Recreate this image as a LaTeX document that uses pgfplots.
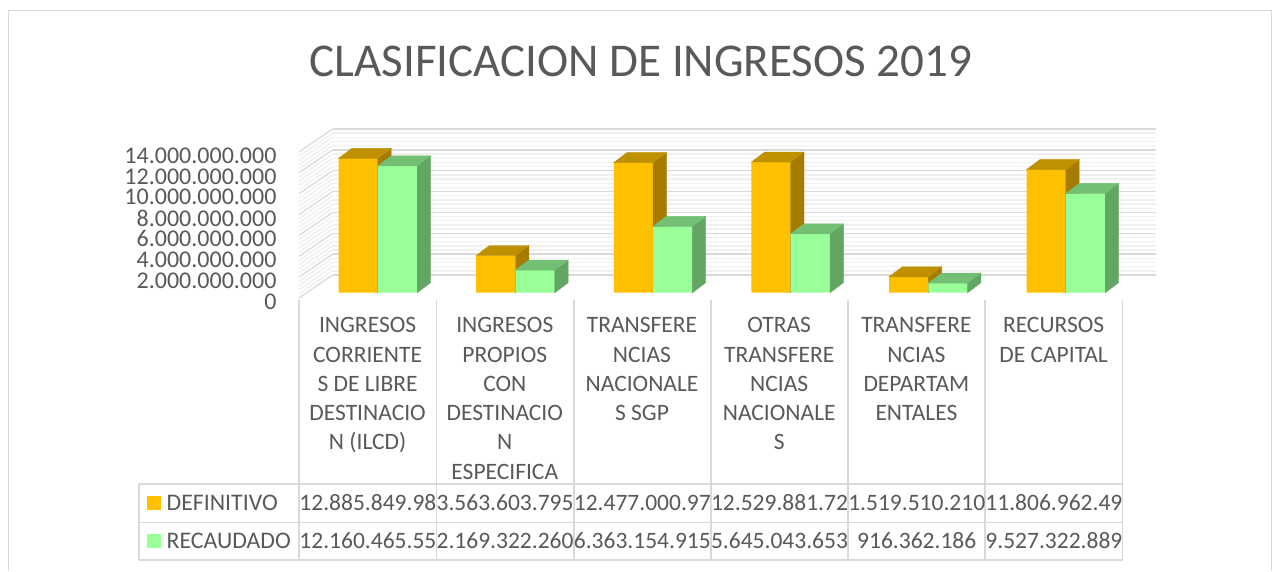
\documentclass[border=0pt]{standalone}
\usepackage{fontspec}
\setmainfont{Carlito}
\usepackage{pgfplots}
\pgfplotsset{compat=1.18}
\usepackage{pgfplotstable}

\definecolor{txt}{HTML}{595959}
\definecolor{rule}{HTML}{D9D9D9}
\definecolor{minor}{HTML}{F0F0F0}
\definecolor{defin}{HTML}{FFC000}
\definecolor{defintop}{HTML}{BF9000}
\definecolor{definside}{HTML}{A67C00}
\definecolor{recau}{HTML}{99FF99}
\definecolor{recautop}{HTML}{73BF73}
\definecolor{recauside}{HTML}{63A563}

% valores en miles de millones
\pgfplotstableread{
x   def       rec
0.5 12.885850 12.160466
1.5 3.563604  2.169322
2.5 12.477001 6.363155
3.5 12.529882 5.645044
4.5 1.519510  0.916362
5.5 11.806962 9.527323
}\ingresos

% caras superior y lateral de la barra; left edge given relative to the pair centre
\newcommand\prism[3]{%
  \pgfmathsetmacro\h{\rawy*146/14}%
  \fill[#1] (#3pt+39.3pt,0pt) -- ++(13.3pt,10pt) -- ++(0pt,-\h pt) -- ++(-13.3pt,-10pt) -- cycle;
  \fill[#2] (#3pt,0pt) -- ++(13.3pt,10pt) -- ++(39.3pt,0pt) -- ++(-13.3pt,-10pt) -- cycle;
}
\pgfdeclareplotmark{prismA}{\prism{definside}{defintop}{-39.3}}
\pgfdeclareplotmark{prismB}{\prism{recauside}{recautop}{0}}

\newcommand\fs{\fontsize{23.5}{29.3}\selectfont}

\pgfplotsset{barlayer/.style={
  at={(309.1pt,-292.7pt)}, anchor=south west,
  scale only axis, width=825.6pt, height=146pt,
  xmin=0, xmax=6, ymin=0, ymax=14,
  hide axis, clip=false,
}}

\begin{document}
\begin{tikzpicture}[x=1pt,y=1pt]
\fill[white] (0,0) rectangle (1272,-571);
\path[use as bounding box] (0,0) rectangle (1272,-571);

% marco
\draw[rule,line width=1.5pt] (8.5,-571) -- (8.5,-10.5) -- (1271.5,-10.5) -- (1271.5,-571);

\node[txt,font=\fontsize{47}{47}\selectfont] at (641,-61) {CLASIFICACION DE INGRESOS 2019};

% pared lateral
\foreach \i in {0,...,35}{
  \pgfmathtruncatemacro\m{mod(\i,5)}
  \ifnum\m=0\relax
    \draw[rule,line width=1.2pt] (299,{-298+4.1714*\i}) -- (332.6,{-275+4.1714*\i});
  \else
    \draw[minor,line width=1.4pt] (299,{-298+4.1714*\i}) -- (332.6,{-275+4.1714*\i});
  \fi
}

% pared del fondo
\begin{axis}[
  at={(332.6pt,-275pt)}, anchor=south west,
  scale only axis, width=823.2pt, height=146pt,
  xmin=0, xmax=6, ymin=0, ymax=14,
  axis line style={draw=none},
  xtick=\empty, ytick={0,2,...,14}, yticklabels={},
  minor y tick num=4,
  major tick length=0pt, minor tick length=0pt,
  ymajorgrids, yminorgrids,
  major grid style={rule,line width=1.4pt},
  minor grid style={minor,line width=1.4pt},
]
\end{axis}

% ejes delanteros: etiquetas
\begin{axis}[
  at={(299pt,-298pt)}, anchor=south west,
  scale only axis, width=823.2pt, height=146pt,
  xmin=0, xmax=6, ymin=0, ymax=14,
  axis line style={draw=none},
  major tick length=0pt,
  ytick={0,2,...,14},
  yticklabels={0,2.000.000.000,4.000.000.000,6.000.000.000,8.000.000.000,10.000.000.000,12.000.000.000,14.000.000.000},
  y tick label style={font=\fontsize{24}{24}\selectfont,text=txt,anchor=east,xshift=-19pt,yshift=-3.5pt},
  xtick={0.5,1.5,...,5.5},
  xticklabels={
    {INGRESOS\\CORRIENTE\\S DE LIBRE\\DESTINACIO\\N (ILCD)},
    {INGRESOS\\PROPIOS\\CON\\DESTINACIO\\N\\ESPECIFICA},
    {TRANSFERE\\NCIAS\\NACIONALE\\S SGP},
    {OTRAS\\TRANSFERE\\NCIAS\\NACIONALE\\S},
    {TRANSFERE\\NCIAS\\DEPARTAM\\ENTALES},
    {RECURSOS\\DE CAPITAL}},
  x tick label style={font=\fs,text=txt,align=center,anchor=north,yshift=-16pt},
]
\end{axis}

% barras: una capa por serie, las marcas se pintan al final de cada eje
\begin{axis}[barlayer]
\addplot[only marks,scatter,mark=prismA,visualization depends on=y \as \rawy]
  table[x=x,y=def]{\ingresos};
\addplot[ybar,bar width=39.3pt,bar shift=-19.65pt,fill=defin,draw=none]
  table[x=x,y=def]{\ingresos};
\end{axis}
\begin{axis}[barlayer]
\addplot[only marks,scatter,mark=prismB,visualization depends on=y \as \rawy]
  table[x=x,y=rec]{\ingresos};
\addplot[ybar,bar width=39.3pt,bar shift=19.65pt,fill=recau,draw=none]
  table[x=x,y=rec]{\ingresos};
\end{axis}

% tabla de datos
\foreach \i in {0,...,6}
  \draw[rule,line width=1.8pt] ({299.3+137.2*\i},-300) -- ({299.3+137.2*\i},-560);
\draw[rule,line width=1.5pt] (139,-484) -- (139,-560);
\foreach \y in {-484,-522.3,-560}
  \draw[rule,line width=1.5pt] (139,\y) -- (1122.5,\y);

\fill[defin] (147,-496) rectangle (161,-510);
\fill[recau] (147,-534) rectangle (161,-548);
\node[txt,font=\fontsize{23.8}{29}\selectfont,anchor=west,inner sep=0pt] at (166.5,-503) {DEFINITIVO};
\node[txt,font=\fontsize{23.8}{29}\selectfont,anchor=west,inner sep=0pt] at (166.5,-541) {RECAUDADO};

\foreach \v [count=\i from 0] in {12.885.849.98,3.563.603.795,12.477.000.97,12.529.881.72,1.519.510.210,11.806.962.49}
  \node[txt,font=\fs,inner sep=0pt] at ({367.9+137.2*\i},-503) {\v};
\foreach \v [count=\i from 0] in {12.160.465.55,2.169.322.260,6.363.154.915,5.645.043.653,916.362.186,9.527.322.889}
  \node[txt,font=\fs,inner sep=0pt] at ({367.9+137.2*\i},-541) {\v};
\end{tikzpicture}
\end{document}
